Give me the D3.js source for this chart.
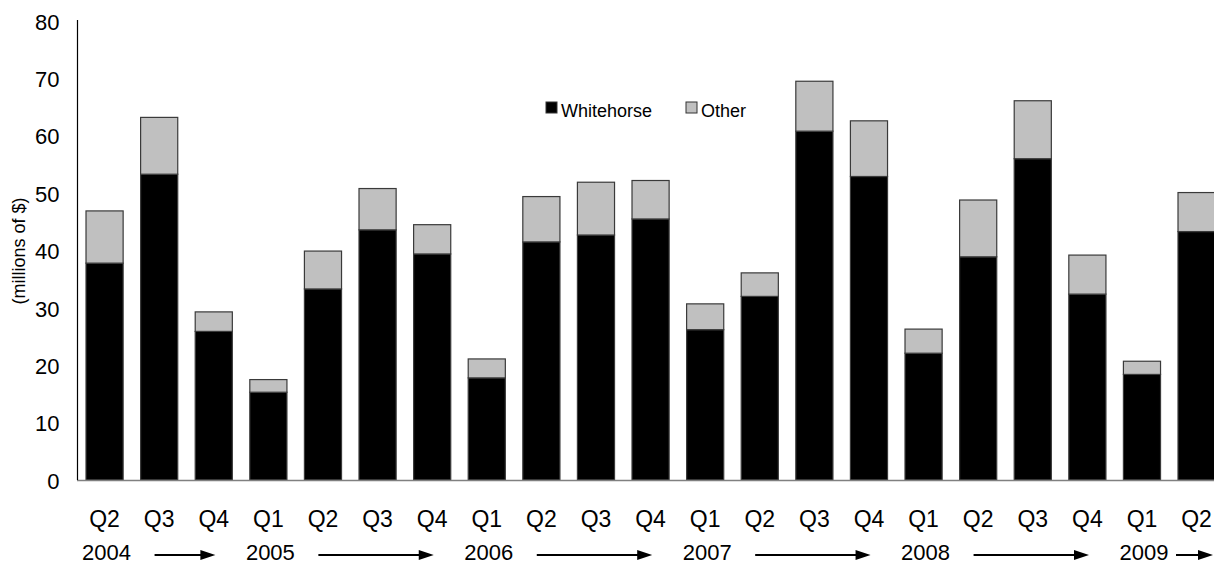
<!DOCTYPE html>
<html>
<head>
<meta charset="utf-8">
<script src="https://cdn.jsdelivr.net/npm/d3@7"></script>
<style>
  body { margin: 0; background: #fff; }
  text { font-family: "Liberation Sans", Arial, sans-serif; fill: #000; }
</style>
</head>
<body>
<script>
// quarters from Q2 2004 to Q2 2009
let quarters = ["Q2","Q3","Q4","Q1","Q2","Q3","Q4","Q1","Q2","Q3","Q4",
                "Q1","Q2","Q3","Q4","Q1","Q2","Q3","Q4","Q1","Q2"];
let whitehorse = [37.8,53.3,25.9,15.3,33.3,43.6,39.4,17.8,41.5,42.7,45.5,
                  26.2,32.0,60.8,52.9,22.1,38.9,56.0,32.4,18.4,43.3];
let other = [9.1,9.9,3.4,2.2,6.6,7.2,5.1,3.3,7.9,9.2,6.7,
             4.5,4.1,8.7,9.7,4.2,9.9,10.1,6.8,2.3,6.8];
// year label sits under this bar index (first bar of the year, Q2 for 2004)
let years = ["2004","2005","2006","2007","2008","2009"];
let yearIndex = [0,3,7,11,15,19];
let yTicks = [0,10,20,30,40,50,60,70,80];
let seriesNames = ["Whitehorse","Other"];
let seriesColors = ["#000000","#c0c0c0"];

let width = 1214, height = 565;
let x0 = 77, yTop = 21, yBottom = 480;

let svg = d3.select("body").append("svg")
    .attr("width", width).attr("height", height);

let idx = quarters.map((q, i) => i);
let x = d3.scaleBand()
    .domain(idx)
    .range([x0, x0 + 54.6 * 21.01])
    .paddingInner(0.32)
    .paddingOuter(0.165);

let y = d3.scaleLinear().domain([0, 80]).range([yBottom, yTop]);

let table = idx.map(i => ({i: i, Whitehorse: whitehorse[i], Other: other[i]}));
let stacked = d3.stack().keys(seriesNames)(table);

// bars
let layers = svg.selectAll("g.layer")
    .data(stacked)
    .enter().append("g")
    .attr("class", "layer")
    .attr("fill", (d, k) => seriesColors[k]);

layers.selectAll("rect")
    .data(d => d)
    .enter().append("rect")
    .attr("x", d => x(d.data.i))
    .attr("y", d => y(d[1]))
    .attr("width", x.bandwidth())
    .attr("height", d => y(d[0]) - y(d[1]))
    .attr("stroke", "#3a3a3a")
    .attr("stroke-width", 1.2);

// baseline and y axis line
svg.append("line")
    .attr("x1", x0).attr("x2", width)
    .attr("y1", y(0) + 0.5).attr("y2", y(0) + 0.5)
    .attr("stroke", "#808080").attr("stroke-width", 1.5);

let yAxis = svg.append("g")
    .attr("transform", "translate(" + (x0 + 0.5) + ",0)")
    .call(d3.axisLeft(y).tickValues(yTicks).tickSize(0).tickPadding(18));
yAxis.select(".domain")
    .attr("d", "M0," + (yTop - 1) + "V" + yBottom)
    .attr("stroke", "#000").attr("stroke-width", 1.2);
yAxis.selectAll("text")
    .style("font-family", "'Liberation Sans', Arial, sans-serif")
    .style("font-size", "22px")
    .attr("dy", "0.37em");

svg.append("text")
    .attr("transform", "translate(19,251) rotate(-90)")
    .attr("text-anchor", "middle")
    .attr("dy", "0.35em")
    .style("font-size", "18px")
    .text("(millions of $)");

// quarter labels
svg.selectAll("text.q")
    .data(quarters)
    .enter().append("text")
    .attr("class", "q")
    .attr("x", (d, i) => x(i) + x.bandwidth() / 2)
    .attr("y", 527)
    .attr("text-anchor", "middle")
    .style("font-size", "23px")
    .text(d => d);

// year labels
let yearX = yearIndex.map(i => x(i) + x.bandwidth() / 2);
svg.selectAll("text.yr")
    .data(years)
    .enter().append("text")
    .attr("class", "yr")
    .attr("x", (d, k) => yearX[k] + 2)
    .attr("y", 560)
    .attr("text-anchor", "middle")
    .style("font-size", "22px")
    .text(d => d);

// arrows between years
let arrows = [];
for (let k = 0; k < years.length - 1; ++k)
    arrows.push([yearX[k] + 50, yearX[k + 1] - 53]);
arrows.push([yearX[years.length - 1] + 34, width - 1]);

let ay = 555;
let arrowG = svg.selectAll("g.arrow")
    .data(arrows)
    .enter().append("g")
    .attr("class", "arrow");
arrowG.append("line")
    .attr("x1", d => d[0]).attr("x2", d => d[1] - 12)
    .attr("y1", ay).attr("y2", ay)
    .attr("stroke", "#000").attr("stroke-width", 2);
arrowG.append("path")
    .attr("d", d => "M" + d[1] + "," + ay + "L" + (d[1] - 15) + "," + (ay - 5) +
                    "L" + (d[1] - 15) + "," + (ay + 5) + "Z")
    .attr("fill", "#000");

// legend
let legend = svg.selectAll("g.legend")
    .data(seriesNames)
    .enter().append("g")
    .attr("class", "legend")
    .attr("transform", (d, k) => "translate(" + (546 + k * 140) + ",102)");
legend.append("rect")
    .attr("width", 11).attr("height", 11)
    .attr("fill", (d, k) => seriesColors[k])
    .attr("stroke", "#333").attr("stroke-width", 1);
legend.append("text")
    .attr("x", 15).attr("y", 15)
    .style("font-size", "18px")
    .text(d => d);
</script>
</body>
</html>
